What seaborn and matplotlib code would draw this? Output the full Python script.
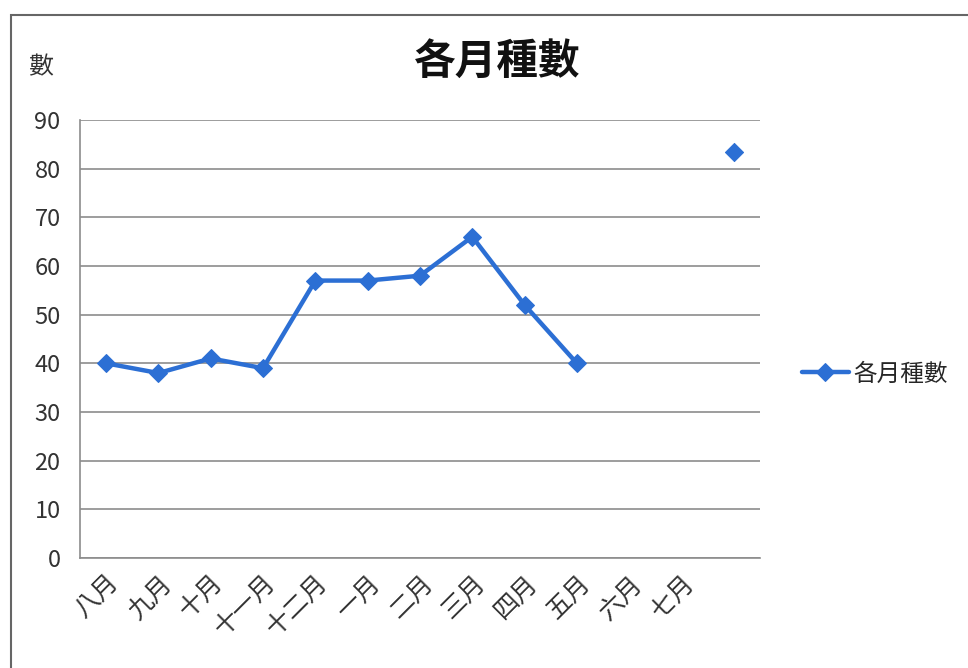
import numpy as np
import pandas as pd
import matplotlib.pyplot as plt
import seaborn as sns
from matplotlib.patches import Rectangle

months = ["八月", "九月", "十月", "十一月", "十二月", "一月", "二月",
          "三月", "四月", "五月", "六月", "七月", ""]
counts = [40, 38, 41, 39, 57, 57, 58, 66, 52, 40, np.nan, np.nan, 83.5]
series_name = "各月種數"

df = pd.DataFrame({"pos": range(len(months)), "month": months, "count": counts})

sns.set_style("white")
plt.rcParams["font.family"] = ["Noto Sans CJK TC", "DejaVu Sans"]

blue = "#2C6FD4"
fig = plt.figure(figsize=(9.68, 6.68), dpi=100)
ax = fig.add_axes([0.0826, 0.1647, 0.7025, 0.6557])

# connected run (first block of consecutive values) and the lone point
run = df.iloc[:10]
lone = df[df["count"].notna()].iloc[10:]
sns.lineplot(data=run, x="pos", y="count", color=blue, lw=3.2, marker="D",
             markersize=9, markeredgecolor=blue, label=series_name, ax=ax)
sns.scatterplot(data=lone, x="pos", y="count", color=blue, marker="D",
                s=85, edgecolor=blue, ax=ax, legend=False)

ax.set_xlim(-0.5, len(months) - 0.5)
ax.set_ylim(0, 90)
ax.set_yticks(range(0, 91, 10))
ax.yaxis.grid(True, color="#8c8c8c", lw=1.2)
ax.set_axisbelow(True)
for s in ["top", "right"]:
    ax.spines[s].set_visible(False)
for s in ["left", "bottom"]:
    ax.spines[s].set_color("#8c8c8c")
    ax.spines[s].set_linewidth(1.2)

ax.set_xticks(range(len(months)))
ax.set_xticklabels(months, rotation=45, ha="right", rotation_mode="anchor",
                   fontsize=18, color="#333333")
ax.set_xticks(np.arange(-0.5, len(months)), minor=True)
ax.tick_params(axis="x", which="major", length=0, pad=9)
ax.tick_params(axis="x", which="minor", length=6, color="#8c8c8c", width=1.2)
ax.tick_params(axis="y", length=9, color="#8c8c8c", width=1.2, labelsize=17,
               labelcolor="#333333", pad=5)
ax.set_xlabel("")
ax.set_ylabel("")

ax.legend(loc="center left", bbox_to_anchor=(1.03, 0.42), frameon=False,
          fontsize=17, handlelength=2.0, handletextpad=0.2)

fig.text(0.514, 0.908, series_name, ha="center", va="center", fontsize=30,
         fontweight="bold", color="#111111")
fig.text(0.042, 0.9, "數", ha="center", va="center", fontsize=18,
         color="#333333")

# outer chart frame (scanned border, top and left visible)
fig.patches.append(Rectangle((0.011, -0.1), 1.2, 1.077, transform=fig.transFigure,
                             fill=False, edgecolor="#666666", lw=1.5))

fig.savefig("out.png", dpi=100)
